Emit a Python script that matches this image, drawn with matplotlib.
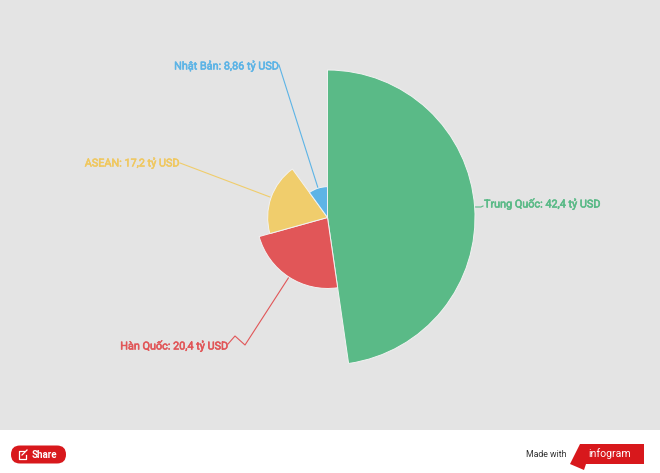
import numpy as np
import matplotlib
matplotlib.use("Agg")
import matplotlib.pyplot as plt
import matplotlib.patheffects as pe
from matplotlib.patches import Wedge, Rectangle, FancyBboxPatch, Polygon

# data
labels = ["Trung Quốc: 42,4 tỷ USD", "Hàn Quốc: 20,4 tỷ USD", "ASEAN: 17,2 tỷ USD", "Nhật Bản: 8,86 tỷ USD"]
values = [42.4, 20.4, 17.2, 8.86]
colors = ["#5ABA87", "#E15658", "#F0CD6C", "#5DB4E6"]
label_colors = ["#5ABA87", "#E15658", "#F0C860", "#5DB4E6"]

# leader lines and label anchors, in figure pixels
leaders = [
    [(475, 207), (481, 207), (483, 206)],
    [(289, 277), (245, 345), (235, 336), (228, 344)],
    [(270, 197), (180, 163)],
    [(318, 188), (279, 65)],
]
label_pos = [(484, 203.5, "left"), (228.5, 345.5, "right"), (180, 162.5, "right"), (279.5, 65.5, "right")]

plt.rcParams["font.family"] = ["Roboto", "DejaVu Sans"]

fig = plt.figure(figsize=(6.6, 4.73), dpi=100)
ax = fig.add_axes([0, 0, 1, 1])
ax.set_xlim(0, 660)
ax.set_ylim(473, 0)
ax.axis("off")

ax.add_patch(Rectangle((0, 0), 660, 430, color="#E4E4E4", lw=0, zorder=0))

# radius and angle both follow the value
cx, cy = 327.5, 217.5
max_r = 147.5
total = sum(values)
start = 0
for v, c in zip(values, colors):
    sweep = v / total * 360
    ax.add_patch(Wedge((cx, cy), max_r * v / max(values), start - 90, start + sweep - 90,
                       facecolor=c, edgecolor="#F2F2F2", lw=0.7, zorder=3))
    start += sweep

for pts, c in zip(leaders, colors):
    ax.plot([p[0] for p in pts], [p[1] for p in pts], color=c, lw=0.8, zorder=2)

# stroke thickens the regular face to the reference's medium weight
for lab, pos, c in zip(labels, label_pos, label_colors):
    ax.text(pos[0], pos[1], lab, color=c, fontsize=7.8, ha=pos[2], va="center", zorder=4,
            path_effects=[pe.withStroke(linewidth=0.4, foreground=c)])

# footer
ax.add_patch(FancyBboxPatch((11, 445.5), 55, 18, boxstyle="round,pad=0,rounding_size=9",
                            facecolor="#D8181C", edgecolor="none", zorder=3))
ax.plot([24, 19, 19, 26, 26], [451, 451, 459, 459, 455], color="white", lw=0.9, zorder=4)
ax.plot([22, 27], [455, 450], color="white", lw=0.9, zorder=4)
ax.text(31.5, 454.5, "Share", color="white", fontsize=7, fontweight="bold", va="center", zorder=4)

ax.text(566, 454.5, "Made with", color="#333333", fontsize=6.3, ha="right", va="center")
ax.add_patch(Polygon([(580, 444), (644, 444), (644, 464), (586, 464), (584, 470), (570, 464)],
                     facecolor="#D8181C", edgecolor="none", zorder=3))
ax.text(609.5, 454, "infogram", color="white", fontsize=7.6, ha="center", va="center", zorder=4)

fig.savefig("out.png", dpi=100)
